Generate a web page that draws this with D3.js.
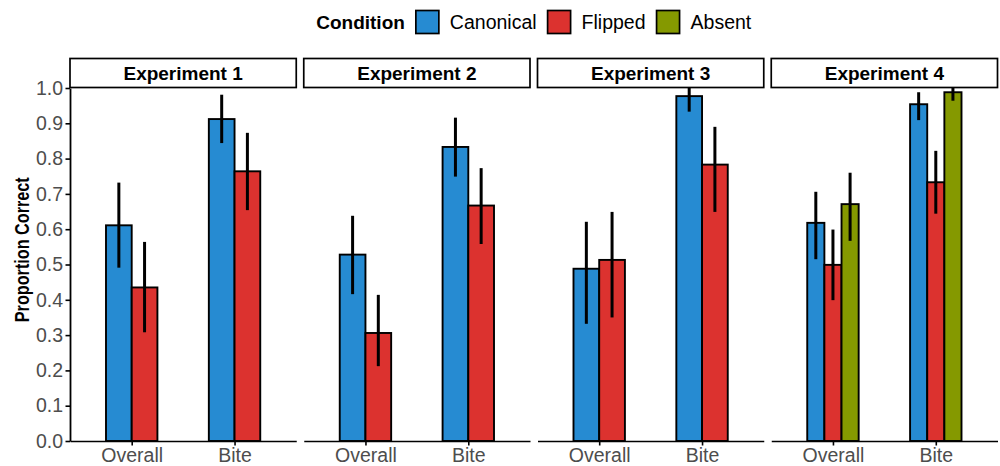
<!DOCTYPE html>
<html><head><meta charset="utf-8">
<script src="https://cdn.jsdelivr.net/npm/d3@7"></script>
<style>html,body{margin:0;padding:0;background:#fff;} svg{display:block;} text{font-family:"Liberation Sans",Arial,sans-serif;}</style>
</head><body><svg id="chart"></svg>
<script>
// ---- data ----
const experiments = ["Experiment 1", "Experiment 2", "Experiment 3", "Experiment 4"];
const measures = ["Overall", "Bite"];
const conditions = ["Canonical", "Flipped", "Absent"];
const conditionColors = ["#268BD2", "#DC322F", "#859900"];
const yTickValues = [0, 0.1, 0.2, 0.3, 0.4, 0.5, 0.6, 0.7, 0.8, 0.9, 1.0];

const rowExperiment = ["Experiment 1","Experiment 1","Experiment 1","Experiment 1",
                       "Experiment 2","Experiment 2","Experiment 2","Experiment 2",
                       "Experiment 3","Experiment 3","Experiment 3","Experiment 3",
                       "Experiment 4","Experiment 4","Experiment 4","Experiment 4","Experiment 4","Experiment 4"];
const rowMeasure = ["Overall","Overall","Bite","Bite",
                    "Overall","Overall","Bite","Bite",
                    "Overall","Overall","Bite","Bite",
                    "Overall","Overall","Overall","Bite","Bite","Bite"];
const rowCondition = ["Canonical","Flipped","Canonical","Flipped",
                      "Canonical","Flipped","Canonical","Flipped",
                      "Canonical","Flipped","Canonical","Flipped",
                      "Canonical","Flipped","Absent","Canonical","Flipped","Absent"];
const rowMean  = [0.611, 0.435, 0.912, 0.764,
                  0.528, 0.306, 0.833, 0.667,
                  0.488, 0.513, 0.977, 0.783,
                  0.618, 0.499, 0.671, 0.954, 0.733, 0.988];
const rowLower = [0.491, 0.308, 0.844, 0.654,
                  0.416, 0.212, 0.749, 0.558,
                  0.332, 0.350, 0.933, 0.649,
                  0.515, 0.399, 0.567, 0.909, 0.644, 0.964];
const rowUpper = [0.732, 0.564, 0.981, 0.873,
                  0.638, 0.414, 0.916, 0.773,
                  0.621, 0.649, 1.000, 0.890,
                  0.706, 0.599, 0.760, 0.988, 0.822, 1.000];

const rows = rowMean.map((m, i) => ({
  experiment: rowExperiment[i], measure: rowMeasure[i], condition: rowCondition[i],
  mean: m, lower: rowLower[i], upper: rowUpper[i]
}));

// ---- layout ----
const W = 1000, H = 466;
const svg = d3.select("#chart").attr("width", W).attr("height", H)
  .attr("viewBox", `0 0 ${W} ${H}`);

const plotLeft = 70, plotRight = 997.5, gap = 7.5;
const panelW = (plotRight - plotLeft - 3 * gap) / 4;
const panelTop = 88, panelBottom = 441;
const stripTop = 58.5, stripH = 29;
const TICK_FONT = 19.5, BOLD_FONT = 19, TITLE_FONT = 19;
const FF = "'Liberation Sans',Arial,sans-serif";
const color = d3.scaleOrdinal(conditions, conditionColors);
const y = d3.scaleLinear([0, 1], [panelBottom, panelTop]);

experiments.forEach((exp, i) => {
  const g = svg.append("g").attr("transform", `translate(${plotLeft + i * (panelW + gap)},0)`);
  const data = rows.filter(r => r.experiment === exp);
  const conds = conditions.filter(c => data.some(r => r.condition === c));
  const x = d3.scalePoint(measures, [0, panelW]).padding(0.6);
  const step = x.step();
  const sub = d3.scaleBand(conds, [-0.25 * step, 0.25 * step]);

  // bars
  g.selectAll("rect.bar").data(data).join("rect").attr("class", "bar")
    .attr("x", d => x(d.measure) + sub(d.condition))
    .attr("width", sub.bandwidth())
    .attr("y", d => y(d.mean))
    .attr("height", d => y(0) - y(d.mean))
    .attr("fill", d => color(d.condition))
    .attr("stroke", "#000").attr("stroke-width", 1.9);

  // error bars
  g.selectAll("line.err").data(data).join("line").attr("class", "err")
    .attr("x1", d => x(d.measure) + sub(d.condition) + sub.bandwidth() / 2)
    .attr("x2", d => x(d.measure) + sub(d.condition) + sub.bandwidth() / 2)
    .attr("y1", d => y(d.lower)).attr("y2", d => y(d.upper))
    .attr("stroke", "#000").attr("stroke-width", 3);

  // x axis
  const xa = g.append("g").attr("transform", `translate(0,${panelBottom})`)
    .call(d3.axisBottom(x).tickSize(4.5).tickSizeOuter(0).tickPadding(2.7));
  xa.select(".domain").attr("stroke", "#000").attr("stroke-width", 1.7);
  xa.selectAll(".tick line").attr("stroke", "#000").attr("stroke-width", 1.6);
  xa.selectAll(".tick text").attr("fill", "#4d4d4d").style("font-size", TICK_FONT + "px")
    .style("font-family", FF);

  // strip
  g.append("rect").attr("x", 0).attr("y", stripTop).attr("width", panelW).attr("height", stripH)
    .attr("fill", "#fff").attr("stroke", "#000").attr("stroke-width", 1.7);
  g.append("text").attr("x", panelW / 2).attr("y", stripTop + stripH / 2 + 6.8)
    .attr("text-anchor", "middle").style("font-size", BOLD_FONT + "px").style("font-weight", "bold")
    .text(exp);

  if (i === 0) {
    const ya = g.append("g")
      .call(d3.axisLeft(y).tickValues(yTickValues).tickFormat(d3.format(".1f"))
        .tickSize(4.5).tickSizeOuter(0).tickPadding(2.5));
    ya.select(".domain").attr("stroke", "#000").attr("stroke-width", 1.8);
    ya.selectAll(".tick line").attr("stroke", "#000").attr("stroke-width", 1.6);
    ya.selectAll(".tick text").attr("fill", "#4d4d4d").style("font-size", TICK_FONT + "px")
      .style("font-family", FF);
  }
});

// y title (original glyphs are condensed along the text direction)
svg.append("text")
  .attr("transform", `translate(28.5,${(stripTop + panelBottom) / 2}) rotate(-90) scale(0.853,1.1)`)
  .attr("text-anchor", "middle").style("font-size", TITLE_FONT + "px").style("font-weight", "bold")
  .text("Proportion Correct");

// legend
const leg = svg.append("g");
const keyW = 23, keyH = 23, keyTop = 10.5, gapL = 11, baseLine = 29;
const title = leg.append("text").attr("x", 0).attr("y", baseLine)
  .style("font-size", BOLD_FONT + "px").style("font-weight", "bold").text("Condition");
let cx = title.node().getComputedTextLength() + gapL;
conditions.forEach((c, k) => {
  leg.append("rect").attr("x", cx).attr("y", keyTop).attr("width", keyW).attr("height", keyH)
    .attr("fill", color(c)).attr("stroke", "#000").attr("stroke-width", 1.7);
  cx += keyW + gapL;
  const t = leg.append("text").attr("x", cx).attr("y", baseLine)
    .style("font-size", TICK_FONT + "px").attr("fill", "#000").text(c);
  cx += t.node().getComputedTextLength();
  if (k < conditions.length - 1) cx += gapL;
});
leg.attr("transform", `translate(${(plotLeft + plotRight) / 2 - cx / 2},0)`);
</script>
</body></html>
